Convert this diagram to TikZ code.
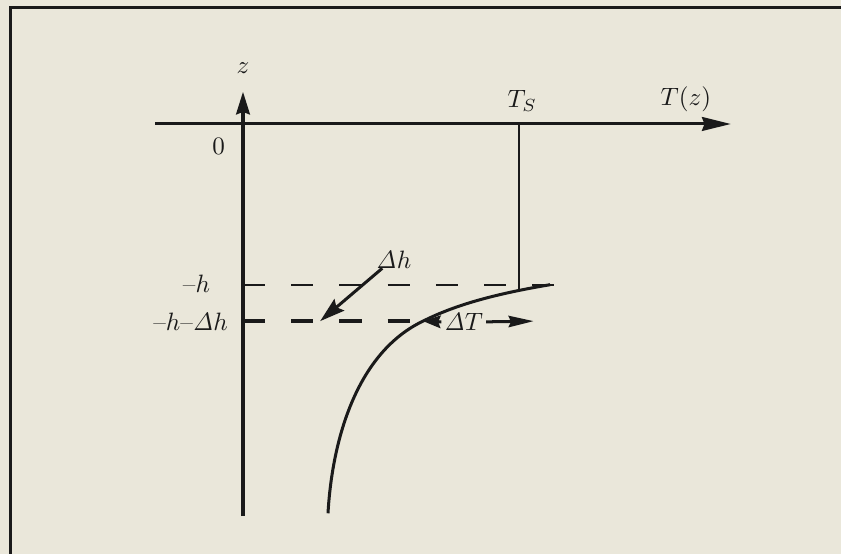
\documentclass[tikz,border=0pt]{standalone}
\usepackage{xcolor}
\definecolor{paper}{HTML}{EAE7DA}
\definecolor{ink}{HTML}{1A1A1A}
\usetikzlibrary{arrows.meta, calc}

\begin{document}
\begin{tikzpicture}[
        font=\normalsize,
        axis/.style={
            draw=ink,
            line width=1.2pt
        },
        level/.style={
            draw=ink,
            dash pattern=on 0.31cm off 0.365cm
        },
        lbl/.style={
            text=ink,
            inner sep=1pt
        },
        pointer/.style={
            -{Stealth[length=10pt, width=6pt, inset=1.5pt]},
            draw=ink,
            line width=1.2pt
        }
    ]

    % Page and frame
    \fill[paper] (-3.402,-6.02) rectangle (8.372,1.736);
    \useasboundingbox (-3.402,-6.02) rectangle (8.372,1.736);
    \draw[ink, line width=1.2pt] (-3.25,-6.02) -- (-3.25,1.63) -- (8.372,1.63);

    % Axes
    \coordinate (O) at (0,0);
    \coordinate (z_bottom) at (0,-5.49);
    \coordinate (z_top) at (0,0.45);
    \coordinate (T_left) at (-1.23,0);
    \coordinate (T_right) at (6.83,0);
    \draw[axis, -{Stealth[length=9pt, width=5.5pt, inset=1pt]}] (z_bottom) -- (z_top);
    \draw[axis, -{Stealth[length=11.5pt, width=5.5pt, inset=1pt]}] (T_left) -- (T_right);

    \node[lbl] (z_label) at (0,0.78) {$z$};
    \node[lbl] (T_label) at (6.2,0.34) {$T(z)$};
    \node[lbl] (Ts_label) at (3.91,0.32) {$T_S$};
    \node[lbl] (zero_label) at (-0.34,-0.32) {$0$};

    % Levels
    \coordinate (h_left) at (0,-2.25);
    \coordinate (h_right) at (4.41,-2.25);
    \coordinate (hdh_left) at (0,-2.76);
    \coordinate (T_knee) at (2.52,-2.76);
    \coordinate (Ts_top) at (3.86,0);
    \coordinate (Ts_foot) at (3.86,-2.34);

    \draw[level, line width=0.8pt] (h_left) -- (h_right);
    \draw[level, line width=1.5pt] (hdh_left) -- (T_knee);
    \draw[ink, line width=0.8pt] (Ts_top) -- (Ts_foot);

    \node[lbl, anchor=east] (h_label) at (-0.42,-2.24) {--$h$};
    \node[lbl, anchor=east] (hdh_label) at (-0.17,-2.77) {--$h$--$\mathit{\Delta} h$};

    % Temperature profile
    \draw[ink, line width=1.2pt] (4.30,-2.25) .. controls (3.4,-2.40) and (2.9,-2.57) .. (T_knee)
        .. controls (1.6,-3.2) and (1.25,-4.4) .. (1.19,-5.45);

    % Increments
    \node[lbl] (dh_label) at (2.11,-1.90) {$\mathit{\Delta} h$};
    \coordinate (dh_tip) at (1.08,-2.76);
    \draw[pointer] (1.95,-2.02) -- (dh_tip);

    \node[lbl] (dT_label) at (3.09,-2.77) {$\mathit{\Delta} T$};
    \coordinate (dT_right) at (4.07,-2.76);
    \draw[pointer, -{Stealth[length=7pt, width=5pt, inset=1pt]}] (dT_label.west) -- (T_knee);
    \draw[pointer, -{Stealth[length=10pt, width=4.5pt, inset=1pt]}] (dT_label.east) -- (dT_right);

\end{tikzpicture}
\end{document}
